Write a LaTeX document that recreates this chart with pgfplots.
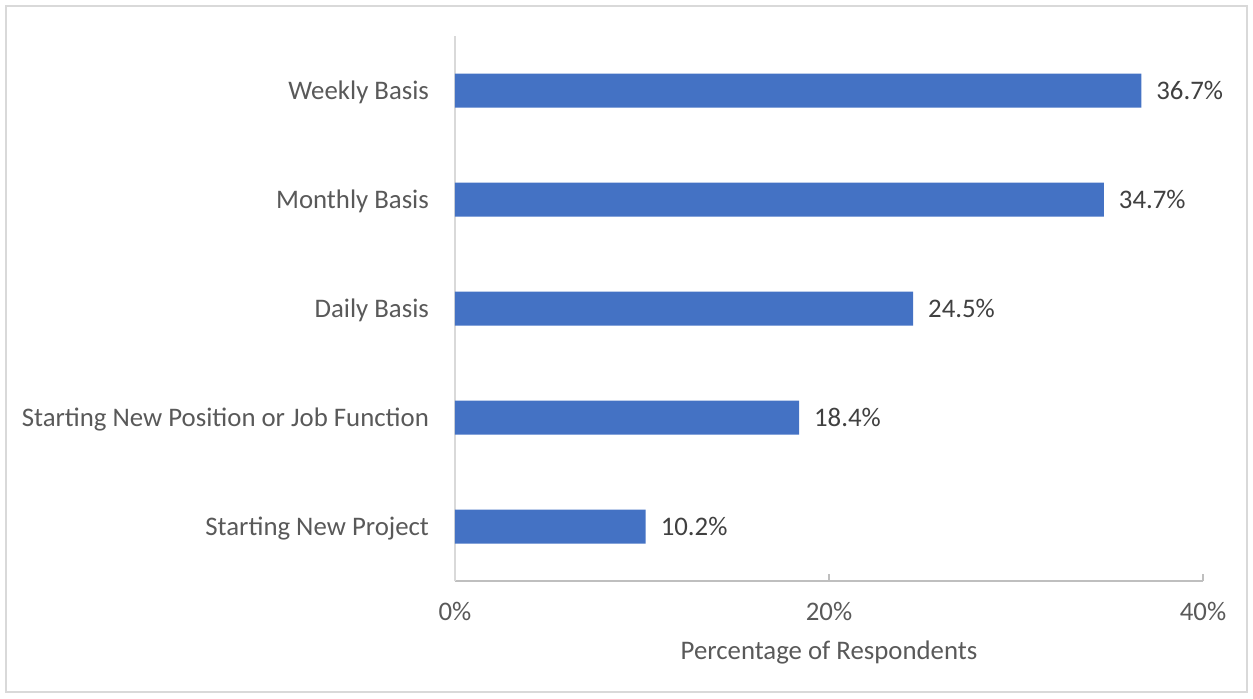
\documentclass[border=0pt]{standalone}
\usepackage{fontspec}
\setmainfont{Carlito}
\usepackage{pgfplots}
\pgfplotsset{compat=1.18}
\definecolor{barBlue}{HTML}{4472C4}
\definecolor{lblGray}{HTML}{595959}
\definecolor{valGray}{HTML}{404040}
\definecolor{axGray}{HTML}{BFBFBF}
\definecolor{frameGray}{HTML}{D9D9D9}

\begin{document}
\begin{tikzpicture}
% page frame (1px = 0.5pt)
\path (0,0) rectangle (626.5pt,-349pt);
\draw[frameGray, line width=0.8pt] (3pt,-3pt) rectangle (623.5pt,-346pt);
\begin{axis}[
    at={(227.5pt,-290.5pt)}, anchor=south west,
    scale only axis,
    width=374pt, height=272.5pt,
    xbar, bar width=17pt,
    xmin=0, xmax=40,
    ymin=-0.5, ymax=4.5,
    xtick={0,20,40},
    xticklabels={0\%,20\%,40\%},
    ytick={0,1,2,3,4},
    yticklabels={Starting New Project,Starting New Position or Job Function,Daily Basis,Monthly Basis,Weekly Basis},
    axis lines*=left,
    x axis line style={axGray, line width=0.8pt},
    y axis line style={frameGray, line width=0.8pt},
    tick align=inside,
    major tick length=3.5pt,
    xtick style={axGray, line width=0.8pt},
    ytick style={draw=none},
    font=\fontsize{13.4}{16}\selectfont,
    xticklabel style={anchor=base, yshift=-19.5pt, text=lblGray},
    yticklabel style={anchor=base east, xshift=-9.5pt, yshift=-4.5pt, text=lblGray},
    xlabel={Percentage of Respondents},
    xlabel style={at={(axis description cs:0.5,0)}, anchor=base, yshift=-39pt, text=lblGray},
    /pgf/number format/assume math mode=true,
    nodes near coords={\pgfmathprintnumber[fixed,precision=1,fixed zerofill]{\pgfplotspointmeta}\%},
    nodes near coords style={anchor=base west, xshift=4pt, yshift=-4.5pt, text=valGray, font=\fontsize{13.4}{16}\selectfont},
]
\addplot[fill=barBlue, draw=none] coordinates {
    (10.2,0) (18.4,1) (24.5,2) (34.7,3) (36.7,4)
};
\end{axis}
\end{tikzpicture}
\end{document}
